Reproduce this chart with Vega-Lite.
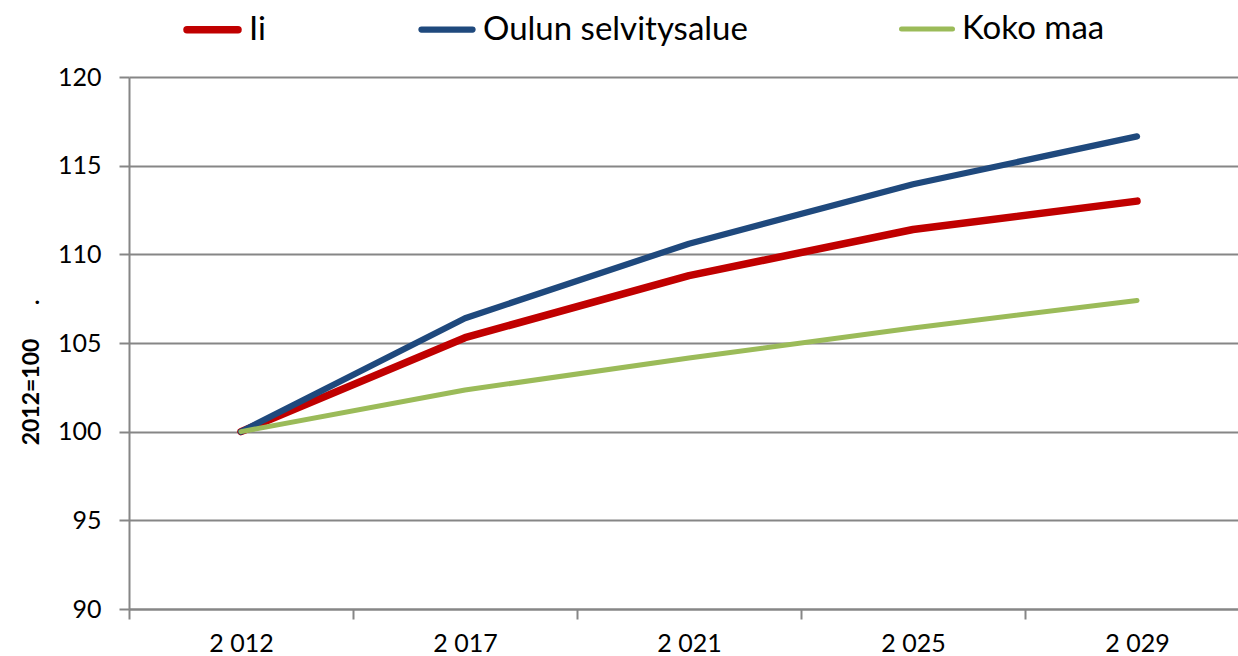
{
  "$schema": "https://vega.github.io/schema/vega-lite/v6.json",
  "width": 1120,
  "height": 532,
  "autosize": "none",
  "padding": {"left": 129, "top": 77, "right": 0, "bottom": 47},
  "background": "white",
  "config": {
    "font": "Lato",
    "view": {"stroke": null}
  },
  "data": {
    "values": [
      {"year": "2 012", "series": "Ii", "value": 100},
      {"year": "2 017", "series": "Ii", "value": 105.3},
      {"year": "2 021", "series": "Ii", "value": 108.8},
      {"year": "2 025", "series": "Ii", "value": 111.4},
      {"year": "2 029", "series": "Ii", "value": 113.0},
      {"year": "2 012", "series": "Oulun selvitysalue", "value": 100},
      {"year": "2 017", "series": "Oulun selvitysalue", "value": 106.4},
      {"year": "2 021", "series": "Oulun selvitysalue", "value": 110.6},
      {"year": "2 025", "series": "Oulun selvitysalue", "value": 113.95},
      {"year": "2 029", "series": "Oulun selvitysalue", "value": 116.65},
      {"year": "2 012", "series": "Koko maa", "value": 100},
      {"year": "2 017", "series": "Koko maa", "value": 102.35},
      {"year": "2 021", "series": "Koko maa", "value": 104.15},
      {"year": "2 025", "series": "Koko maa", "value": 105.85},
      {"year": "2 029", "series": "Koko maa", "value": 107.4}
    ]
  },
  "mark": {"type": "line", "strokeCap": "round", "strokeJoin": "round"},
  "encoding": {
    "x": {
      "field": "year",
      "type": "ordinal",
      "sort": null,
      "bandPosition": 0.5,
      "scale": {"type": "band", "paddingInner": 0, "paddingOuter": 0},
      "axis": {
        "title": null,
        "labelAngle": 0,
        "labelFontSize": 25,
        "labelColor": "black",
        "labelPadding": 12,
        "tickBand": "extent",
        "tickSize": 10,
        "tickWidth": 2,
        "tickColor": "#868686",
        "domainColor": "#868686",
        "domainWidth": 2,
        "grid": false
      }
    },
    "y": {
      "field": "value",
      "type": "quantitative",
      "scale": {"domain": [90, 120], "nice": false, "zero": false},
      "axis": {
        "values": [90, 95, 100, 105, 110, 115, 120],
        "title": "2012=100\u00a0\u00a0\u00a0\u00a0\u00a0\u00a0.",
        "titleFontSize": 23,
        "titleFontWeight": "bold",
        "titleColor": "black",
        "titleAngle": -90,
        "titleBaseline": "middle",
        "titleAlign": "center",
        "titleX": -98,
        "titleY": 295,
        "labelFontSize": 25,
        "labelColor": "black",
        "labelPadding": 18,
        "tickSize": 10,
        "tickWidth": 2,
        "tickColor": "#868686",
        "domainColor": "#868686",
        "domainWidth": 2,
        "grid": true,
        "gridColor": "#868686",
        "gridWidth": 2
      }
    },
    "color": {
      "field": "series",
      "type": "nominal",
      "sort": ["Ii", "Oulun selvitysalue", "Koko maa"],
      "scale": {
        "domain": ["Ii", "Oulun selvitysalue", "Koko maa"],
        "range": ["#C00000", "#1F497D", "#9BBB59"]
      },
      "legend": {
        "title": null,
        "orient": "none",
        "direction": "horizontal",
        "legendX": 54,
        "legendY": -77,
        "symbolType": "stroke",
        "symbolSize": 2601,
        "symbolStrokeWidth": 7,
        "labelFontSize": 33,
        "labelLimit": 0,
        "labelColor": "black",
        "labelOffset": 7,
        "columnPadding": 143,
        "encode": {"symbols": {"update": {"strokeCap": {"value": "round"}}}}
      }
    },
    "strokeWidth": {
      "field": "series",
      "type": "nominal",
      "scale": {
        "domain": ["Ii", "Oulun selvitysalue", "Koko maa"],
        "range": [7.5, 5, 5]
      },
      "legend": null
    }
  }
}
